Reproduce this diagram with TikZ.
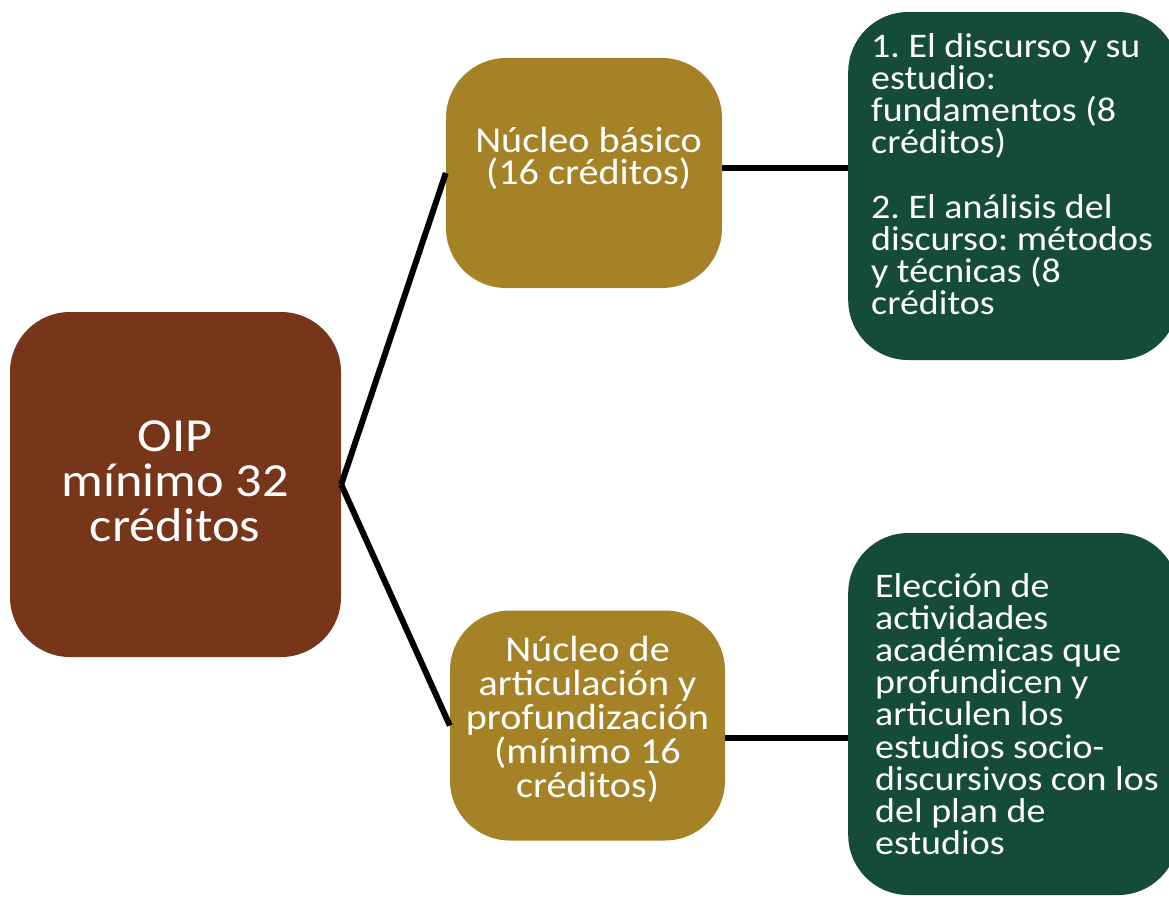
\documentclass[tikz,border=0pt]{standalone}
\usepackage{fontspec}
\setmainfont{Carlito}[FakeStretch=1.1]
\frenchspacing
\definecolor{oipbrown}{RGB}{119,54,26}
\definecolor{nucleogold}{RGB}{165,130,38}
\definecolor{cursogreen}{RGB}{21,76,57}

\begin{document}
\begin{tikzpicture}[x=1pt,y=-1pt]
\tikzstyle{every node}+=[inner sep=0pt, text=white]
\tikzstyle{box}=[rounded corners=60pt, minimum height=230pt]
\tikzstyle{greenbox}=[box, fill=cursogreen, anchor=west, minimum width=330pt]
\tikzstyle{boxtext}=[align=center, font=\fontsize{36.5}{34}\selectfont]
\tikzstyle{listtext}=[align=left, anchor=north west, font=\fontsize{34.5}{32.2}\selectfont]
\tikzstyle{link}=[black, line width=6pt]
\useasboundingbox (0,0) rectangle (1169,898);
\clip (0,0) rectangle (1169,898);
% boxes
\node [box, fill=oipbrown, minimum width=331pt, minimum height=345pt] (oip) at (175.5,484.5) {};
\node [box, fill=nucleogold, minimum width=276pt] (basico) at (584,173) {};
\node [box, fill=nucleogold, minimum width=275pt] (artic) at (587.5,725.5) {};
\node [greenbox, minimum height=348pt] (cursos) at (848,186) {};
\node [greenbox, minimum height=362pt] (eleccion) at (848,714) {};
% texts
\node [boxtext, font=\fontsize{47.5}{45}\selectfont] (oiptext) at (175,481) {OIP\\mínimo 32\\créditos};
\node [boxtext, font=\fontsize{36.5}{31.7}\selectfont] (basicotext) at (588.5,158.5) {Núcleo básico\\(16 créditos)};
\node [boxtext] (artictext) at (587.5,719) {Núcleo de\\articulación y\\profundización\\(mínimo 16\\créditos)};
\node [listtext] (cursostext) at (871,33) {1. El discurso y su\\estudio:\\fundamentos (8\\créditos)\\[32.2pt]2. El análisis del\\discurso: métodos\\y técnicas (8\\créditos};
\node [listtext] (elecciontext) at (875,573) {Elección de\\actividades\\académicas que\\profundicen y\\articulen los\\estudios socio-\\discursivos con los\\del plan de\\estudios};
% connectors
\draw [link] (oip.east) -- (basico.west);
\draw [link] (oip.east) -- (artic.west);
\draw [link] ([yshift=5pt]basico.east) -- ([yshift=5pt]basico.east -| cursos.west);
\draw [link] ([yshift=-12pt]artic.east) -- ([yshift=-12pt]artic.east -| eleccion.west);
\end{tikzpicture}
\end{document}
